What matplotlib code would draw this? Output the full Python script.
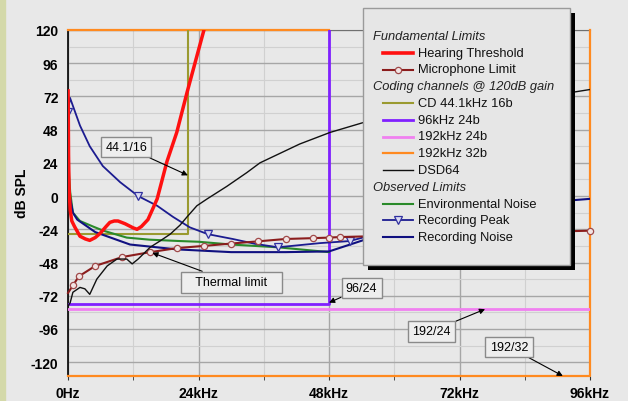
import matplotlib
matplotlib.use("Agg")
import matplotlib.pyplot as plt
from matplotlib.lines import Line2D
from matplotlib.patches import Rectangle
from matplotlib.ticker import MultipleLocator

plt.rcParams['font.family'] = ['Liberation Sans', 'DejaVu Sans']

# ---- data (frequency in kHz, level in dB SPL) ----
hear_f = [0.02, 0.05, 0.1, 0.2, 0.4, 0.7, 1.2, 2.2, 3.2, 4.0, 5.0, 5.9, 7.0, 7.7,
          8.5, 9.2, 10.5, 12.0, 12.7, 13.5, 14.7, 15.5, 16.4, 18.2, 20.0, 21.9, 25.0, 26.0]
hear_db = [76, 60, 30, 5, -10, -18, -22, -29, -31, -32, -30, -27, -22, -19,
           -18, -18, -20, -23, -24, -22, -17, -10, -2, 25, 46, 75, 120, 130]

mic_f = [0, 1, 2, 5, 10, 15, 20, 25, 30, 35, 40, 45, 48, 50, 96]
mic_db = [-70, -64, -58, -50.5, -44, -40.6, -37.6, -36, -34.3, -32.7, -31, -30.4, -30, -29.6, -25]

cd_f = [0, 22.05, 22.05]
cd_db = [-27.5, -27.5, 120]

k96_f = [0, 48, 48]
k96_db = [-78, -78, 120]

k192_24_f = [0, 96]
k192_24_db = [-81.5, -81.5]

k192_32_f = [0, 96, 96]
k192_32_db = [-130, -130, 120]
k192_32_top_f = [0, 48]
k192_32_top_db = [120, 120]

dsd_f = [0, 0.4, 0.9, 2.2, 3.1, 4.0, 5.3, 7.2, 9.0, 10.8, 11.8, 12.9, 15.1, 16.9,
         18.8, 20.6, 21.9, 23.7, 25.6, 29.2, 32.9, 35.3, 42.6, 48.2, 54.2, 92.8, 96]
dsd_db = [-79.5, -77, -69.5, -66, -67, -71, -60, -50.5, -45.5, -45.5, -49, -45.5, -37, -32.5,
          -27.5, -21, -15, -7, -2, 7, 17, 24, 37.6, 46, 53, 75, 77]

env_f = [0.05, 0.2, 0.4, 0.9, 2.2, 4.6, 6.5, 10.8, 15, 20.6, 24, 30, 38.6, 48]
env_db = [32, 15, 3, -12, -18, -22, -25, -30, -31.5, -32.5, -33, -35, -37, -40.5]

peak_f = [0, 0.37, 2.2, 4.0, 6.4, 9.6, 12.9, 16.4, 19.3, 22.4, 25.7, 30.3, 34.4,
          38.6, 46.3, 51.8, 54.2]
peak_db = [61, 71, 51, 36, 21.7, 10, 0, -7, -15, -22.6, -27.5, -31, -34.5,
           -37, -34, -32.5, -30]
peak_marks = [0, 6, 10, 13, 15]

noise_f = [0.1, 0.4, 0.9, 1.7, 5.0, 11.4, 20, 30, 40, 48, 54.2, 92.8, 96]
noise_db = [5, -2, -12, -17, -26, -35, -38.5, -40.5, -40.5, -40, -32, -3, -2]

x_ticks = [0, 24, 48, 72, 96]
x_labels = ['0Hz', '24kHz', '48kHz', '72kHz', '96kHz']
y_ticks = [120, 96, 72, 48, 24, 0, -24, -48, -72, -96, -120]

# ---- styles ----
st = {
    'hear': dict(color='#ff1010', lw=2.5),
    'mic': dict(color='#8b1c1c', lw=1.5, marker='o', ms=4.5, mfc='#f2e4e4', mec='#a04a4a', mew=0.9),
    'cd': dict(color='#9a9a30', lw=1.5),
    'k96': dict(color='#8020ff', lw=2.0),
    'k192_24': dict(color='#f080f0', lw=2.0),
    'k192_32': dict(color='#ff8a20', lw=1.6),
    'dsd': dict(color='#111111', lw=1.0),
    'env': dict(color='#2a8a2a', lw=1.5),
    'peak': dict(color='#1c1c90', lw=1.3, marker='v', ms=6, mfc='#dcdcf2', mec='#3030a0', mew=0.9),
    'noise': dict(color='#101080', lw=1.5),
}

W, H = 628, 402
fig = plt.figure(figsize=(W / 100, H / 100), dpi=100, facecolor='#e8e8e8')
fig.add_artist(Rectangle((0, 0), 5 / W, 1, transform=fig.transFigure,
                         color='#d4d9a9', zorder=0))

ax = fig.add_axes([68 / W, 25 / H, 522 / W, 346 / H])
ax.set_facecolor('#e8e8e8')
ax.set_xlim(0, 96)
ax.set_ylim(-130, 120)

ax.set_xticks(x_ticks)
ax.set_xticklabels(x_labels, fontweight='bold', fontsize=10)
ax.set_yticks(y_ticks)
ax.set_yticklabels([str(v) for v in y_ticks], fontweight='bold', fontsize=10)
ax.xaxis.set_minor_locator(MultipleLocator(12))
ax.yaxis.set_minor_locator(MultipleLocator(12))
ax.tick_params(axis='x', which='both', length=3, direction='out', pad=4, color='#333333')
ax.tick_params(axis='y', which='both', length=0, pad=7)
ax.grid(which='major', color='#a6a6a6', lw=1.0)
ax.grid(which='minor', color='#d0d0d0', lw=0.8)
ax.set_axisbelow(True)

ax.spines['left'].set_color('black')
ax.spines['left'].set_linewidth(1.2)
ax.spines['top'].set_color('#707070')
ax.spines['right'].set_visible(False)
ax.spines['bottom'].set_visible(False)

ax.set_ylabel('dB SPL', fontweight='bold', fontsize=10)
ax.yaxis.set_label_coords(-0.075, 0.53)

# ---- series ----
ax.plot(k192_32_f, k192_32_db, clip_on=False, zorder=3, **st['k192_32'])
ax.plot(k192_32_top_f, k192_32_top_db, clip_on=False, zorder=3, **st['k192_32'])
ax.plot(k192_24_f, k192_24_db, zorder=3, **st['k192_24'])
ax.plot(k96_f, k96_db, zorder=3, **st['k96'])
ax.plot(cd_f, cd_db, zorder=3, **st['cd'])
ax.plot(env_f, env_db, zorder=4, **st['env'])
ax.plot(noise_f, noise_db, zorder=4, **st['noise'])
ax.plot(peak_f, peak_db, zorder=4, markevery=peak_marks, **st['peak'])
ax.plot(mic_f, mic_db, zorder=5, markevery=list(range(1, len(mic_f))), clip_on=False, **st['mic'])
ax.plot(dsd_f, dsd_db, zorder=5, **st['dsd'])
ax.plot(hear_f, hear_db, zorder=6, **st['hear'])

# ---- callouts ----
box = dict(boxstyle='square,pad=0.35', fc='#eeeeee', ec='#8a8a8a', lw=1)
arrow = dict(arrowstyle='-|>', color='black', lw=0.8, mutation_scale=8, shrinkA=0, shrinkB=0)
callouts = [
    ('44.1/16', (22.05, 15), (10.7, 35.4)),
    ('   Thermal limit   ', (15.5, -41), (30.1, -62.2)),
    ('96/24', (48, -77), (54.0, -66.5)),
    ('192/24', (76.7, -81.7), (66.9, -97.6)),
    ('192/32', (91, -130), (81.1, -109)),
]
for txt, tip, pos in callouts:
    ax.annotate(txt, xy=tip, xytext=pos, ha='center', va='center', fontsize=9,
                bbox=box, arrowprops=arrow, zorder=8, annotation_clip=False)

# ---- legend panel (drawn by hand) ----
def fx(px):
    return px / W

def fy(py):
    return 1 - py / H

lx0, lx1, ly0, ly1 = 363, 570, 9, 266
fig.add_artist(Rectangle((fx(lx0 + 5), fy(ly1 + 5)), fx(lx1 - lx0), (ly1 - ly0) / H,
                         transform=fig.transFigure, fc='black', ec='none', zorder=10))
fig.add_artist(Rectangle((fx(lx0), fy(ly1)), fx(lx1 - lx0), (ly1 - ly0) / H,
                         transform=fig.transFigure, fc='#e6e6e6', ec='#9a9a9a', lw=1, zorder=11))

rows = [
    ('head', 'Fundamental Limits', None),
    ('item', 'Hearing Threshold', 'hear'),
    ('item', 'Microphone Limit', 'mic'),
    ('head', 'Coding channels @ 120dB gain', None),
    ('item', 'CD 44.1kHz 16b', 'cd'),
    ('item', '96kHz 24b', 'k96'),
    ('item', '192kHz 24b', 'k192_24'),
    ('item', '192kHz 32b', 'k192_32'),
    ('item', 'DSD64', 'dsd'),
    ('head', 'Observed Limits', None),
    ('item', 'Environmental Noise', 'env'),
    ('item', 'Recording Peak', 'peak'),
    ('item', 'Recording Noise', 'noise'),
]
row_y0, row_dy = 37, 16.75
for i, (kind, label, key) in enumerate(rows):
    y = row_y0 + i * row_dy
    if kind == 'head':
        fig.text(fx(373), fy(y), label, fontsize=9.3, style='italic', color='#222222',
                 va='center', ha='left', zorder=12)
    else:
        s = dict(st[key])
        s['lw'] = min(s['lw'], 2.0) if key != 'hear' else 2.6
        has_marker = 'marker' in s
        fig.add_artist(Line2D([fx(383), fx(398), fx(413)], [fy(y)] * 3,
                              transform=fig.transFigure, zorder=12,
                              markevery=[1] if has_marker else None, **s))
        fig.text(fx(418), fy(y), label, fontsize=9.3, color='#111111',
                 va='center', ha='left', zorder=12)

fig.savefig('out.png', dpi=100, facecolor=fig.get_facecolor())
